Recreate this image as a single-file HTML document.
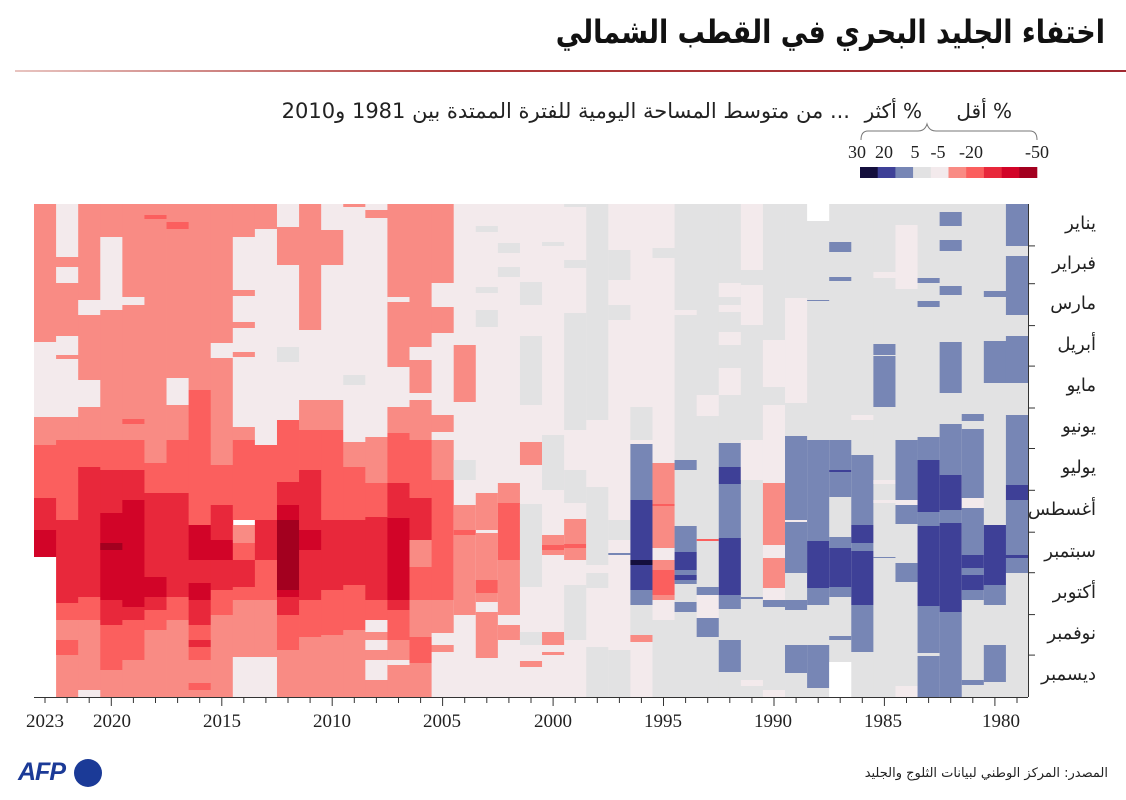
<!DOCTYPE html>
<html><head><meta charset="utf-8">
<style>
body{margin:0;background:#fff;width:1126px;height:800px;overflow:hidden;position:relative;font-family:"Liberation Serif","DejaVu Sans",serif;}
.ar{font-family:"DejaVu Sans",sans-serif;direction:rtl;position:absolute;color:#222;white-space:nowrap}
.m{font-family:"DejaVu Sans",sans-serif;direction:rtl;position:absolute;color:#222;white-space:nowrap;right:30px;font-size:18px;line-height:20px}
</style></head><body>
<div class="ar" style="right:21px;top:14px;font-size:27px;font-weight:bold;color:#111;transform:scaleY(1.2);transform-origin:right top">اختفاء الجليد البحري في القطب الشمالي</div>
<div style="position:absolute;left:15px;top:70px;width:1111px;height:2px;background:linear-gradient(90deg,#e8c4c0,#b03a3a 40%,#a02830)"></div>
<div class="ar" style="right:276px;top:99px;font-size:21px">... من متوسط المساحة اليومية للفترة الممتدة بين 1981 و2010</div>
<div class="ar" style="right:204px;top:99px;font-size:20px">% أكثر</div>
<div class="ar" style="right:114px;top:99px;font-size:20px">% أقل</div>
<svg style="position:absolute;left:0;top:0" width="1126" height="800" id="s"></svg>
<div id="mon"></div>
<div class="ar" style="right:18px;top:766px;font-size:13px">المصدر: المركز الوطني لبيانات الثلوج والجليد</div>
<div style="position:absolute;left:18px;top:758px;font-family:'Liberation Sans',sans-serif;font-weight:bold;font-style:italic;font-size:25px;color:#1b3a97;letter-spacing:-1px">AFP</div>
<div style="position:absolute;left:74px;top:759px;width:28px;height:28px;border-radius:50%;background:#1b3a97"></div>
<script>
var C={W:'#ffffff',G:'#e2e2e3',P:'#f3eaec',S:'#f98b84',R:'#fb5f5e',D:'#e8283b',C:'#d20428',K:'#a3001f',L:'#7786b5',B:'#3e4097',N:'#140f3d'};
var cols=[
"S204-342,P342-417,S417-445,R445-498,D498-530,C530-557,W557-697",
"P204-257,S257-267,P267-283,S283-336,P336-355,S355-359,P359-417,S417-440,R440-520,D520-603,R603-620,S620-697,R640-655",
"S204-300,P300-315,S315-380,P380-407,S407-440,R440-467,D467-597,R597-620,S620-690,P690-697",
"S204-237,P237-310,S310-440,R440-470,D470-513,C513-600,K543-550,D600-625,R625-670,S670-697",
"S204-297,P297-305,S305-440,R419-424,R440-470,D470-500,C500-607,D607-620,R620-660,S660-697",
"S204-440,R215-219,S440-463,R463-493,D493-577,C577-597,D597-610,R610-630,S630-697",
"S204-223,R222-229,S229-378,P378-405,S405-440,R440-493,D493-597,R597-620,S620-697",
"S204-390,R390-440,R440-525,C525-560,D560-583,C583-600,D600-625,R625-640,D640-647,R647-660,S660-697,R683-690",
"S204-343,P343-358,S358-440,S440-465,R465-505,D505-540,C540-560,D560-590,R590-615,S615-697",
"S204-237,P237-290,S290-296,P296-322,S322-328,P328-352,S352-357,P357-427,S427-440,R440-520,S525-543,R543-560,D560-587,R587-600,S600-657,P657-697",
"S204-229,P229-445,R445-520,D520-560,R560-600,S600-657,P657-697",
"P204-227,S227-265,P265-347,G347-362,P362-420,R420-482,D482-505,C505-520,K520-590,C590-597,D597-615,R615-650,S650-697",
"S204-330,P330-400,S400-430,R430-470,D470-530,C530-550,D550-600,R600-637,S637-697",
"P204-230,S230-265,P265-400,S400-430,R430-520,D520-590,R590-635,S635-697",
"S204-207,P207-375,G375-385,P385-442,S442-467,R467-520,D520-585,R585-630,S630-697",
"P204-210,S210-218,P218-437,S437-483,R483-517,D517-600,R600-620,P620-632,S632-697,P640-650,P660-680",
"S204-367,P297-302,P367-407,S407-433,R433-483,D483-518,C518-600,D600-610,R610-640,S640-697,P660-665",
"S204-347,P347-360,S360-393,P393-400,S400-440,R440-498,D498-540,S540-567,R567-600,S600-697,R637-663",
"S204-283,P283-307,S307-333,P333-415,S415-432,P432-440,S440-480,R480-600,S600-633,P633-645,S645-652,P652-697",
"P204-345,S345-402,P402-697,G460-480,S505-530,R530-535,S535-615",
"P204-226,G226-232,P232-287,G287-293,P293-310,G310-327,P327-697,S493-530,S533-580,R580-593,S593-602,S612-658",
"P204-243,G243-253,P253-267,G267-277,P277-296,P296-697,S483-503,R503-560,S560-615,S625-640",
"P204-697,G282-305,G336-405,S442-465,G504-587,G632-645,S661-667",
"P204-697,G242-246,G435-490,S535-555,R545-550,S632-645,S652-655",
"P204-697,G204-207,G260-268,G313-430,G470-503,S519-560,R544-548,G585-640",
"P204-697,G204-420,G487-565,G573-588,G647-697",
"P204-697,G250-280,G305-320,G520-540,L553-555,G650-697",
"P204-697,G407-440,L444-500,B500-590,N560-565,L590-605,G605-635,S635-642",
"P204-697,G248-258,S463-548,R504-506,P548-560,S560-570,R570-595,S595-600,G620-697",
"G204-697,P310-315,L460-470,L526-552,B552-570,L570-575,B575-580,L580-584,L602-612",
"G204-697,P395-416,R539-541,L587-595,P595-618,L618-637",
"G204-697,P283-297,P305-312,P332-345,P368-395,L443-467,B467-484,L484-538,B538-595,L595-609,L640-672",
"G204-697,P204-270,P285-325,P440-480,L597-599,P680-686",
"G204-697,P340-387,P405-483,S483-545,P545-558,S558-588,P588-600,L600-607,P690-697",
"G204-697,P298-403,L436-520,P520-522,L522-573,L600-610,L645-673",
"G204-697,W204-221,L300-301,L440-541,B541-588,L588-605,L645-688",
"G204-697,L242-252,L277-281,L440-497,B470-472,L537-548,B548-587,L587-597,L636-640,W662-697",
"G204-697,P415-420,L455-525,B525-543,L543-551,B551-605,L605-652",
"G204-697,P272-278,L344-355,L356-407,P480-484,P500-503,L557-558",
"G204-697,P225-289,L440-500,P500-505,L505-524,L563-582,P686-697",
"G204-697,L278-283,L301-307,L437-460,B460-512,L512-526,B526-606,L606-653,L656-697",
"G204-697,L212-226,L240-251,L286-295,L342-393,L424-475,B475-510,L510-523,B523-612,L612-697",
"G204-697,L414-421,L429-498,P498-508,L508-555,B555-568,L568-575,B575-590,L590-600,L680-685",
"G204-697,L291-297,L341-383,B525-585,L585-605,L645-682",
"L204-246,G246-256,L256-315,G315-336,L336-383,G383-415,L415-485,B485-500,L500-555,B555-558,L558-573,G573-697"
];
var s=document.getElementById('s'),h='';
var x0=34,cw=994/45;
cols.forEach(function(c,i){
 var x=(x0+i*cw).toFixed(2);
 c.split(',').forEach(function(seg){
  var k=seg[0],a=seg.slice(1).split('-'),y0=+a[0],y1=+a[1];
  h+='<rect x="'+x+'" y="'+y0+'" width="'+(cw+0.4).toFixed(2)+'" height="'+(y1-y0)+'" fill="'+C[k]+'"/>';
 });
});
h+='<line x1="34" y1="697.5" x2="1028" y2="697.5" stroke="#333" stroke-width="1"/>';
h+='<line x1="1028.5" y1="204" x2="1028.5" y2="697" stroke="#333" stroke-width="1"/>';
for(var i=0;i<45;i++){var x=x0+i*cw;var yr=2023-i;var big=(yr%5==0);
 h+='<line x1="'+(x+cw/2).toFixed(1)+'" y1="697" x2="'+(x+cw/2).toFixed(1)+'" y2="'+(big?706:703)+'" stroke="#333"/>';
}
var lab=[[2023,45],[2020,112],[2015,222],[2010,332],[2005,442],[2000,553],[1995,663],[1990,773],[1985,883],[1980,1001]];
lab.forEach(function(l){h+='<text x="'+l[1]+'" y="727" font-size="19" text-anchor="middle" fill="#222" font-family="Liberation Serif">'+l[0]+'</text>';});
var months=['يناير','فبراير','مارس','أبريل','مايو','يونيو','يوليو','أغسطس','سبتمبر','أكتوبر','نوفمبر','ديسمبر'];
var md=[31,28,31,30,31,30,31,31,30,31,30,31],cum=0,mh='';
for(var m=0;m<12;m++){var ya=204+493*cum/365;var yb=204+493*(cum+md[m])/365;
 if(m>0)h+='<line x1="1028" y1="'+ya.toFixed(1)+'" x2="1035" y2="'+ya.toFixed(1)+'" stroke="#333"/>';
 mh+='<div class="m" style="top:'+((ya+yb)/2-11).toFixed(1)+'px">'+months[m]+'</div>';
 cum+=md[m];}
document.getElementById('mon').innerHTML=mh;
var lc=['N','B','L','G','P','S','R','D','C','K'];
lc.forEach(function(k,i){h+='<rect x="'+(860+i*17.7).toFixed(1)+'" y="167" width="18" height="11" fill="'+C[k]+'"/>';});
h+='<path d="M861 140 Q861 131 868 131 L918 131 Q925 131 927 124 Q929 131 936 131 L1030 131 Q1037 131 1037 140" fill="none" stroke="#777" stroke-width="1"/>';
[['30',857],['20',884],['5',915],['-5',938],['-20',971],['-50',1037]].forEach(function(t){h+='<text x="'+t[1]+'" y="158" font-size="18" text-anchor="middle" fill="#222" font-family="Liberation Serif">'+t[0]+'</text>';});
s.innerHTML=h;
</script>
</body></html>
